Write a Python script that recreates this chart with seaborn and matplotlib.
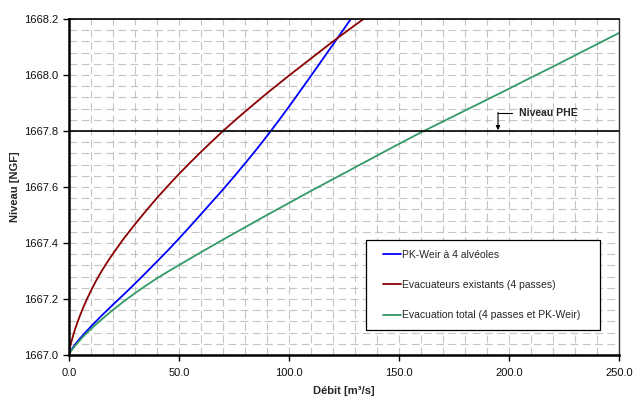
import matplotlib
matplotlib.use("Agg")
import matplotlib.pyplot as plt
from matplotlib.ticker import MultipleLocator, FormatStrFormatter
from matplotlib.legend_handler import HandlerLine2D
import seaborn as sns
import pandas as pd

# --- data ---
q_pk = [0, 0.5, 1, 2, 3, 5, 7.5, 10, 12.5, 15, 20, 25, 30, 35, 40, 45, 50, 55, 60, 65,
        70, 75, 80, 85, 90, 95, 100, 105, 110, 115, 120, 125, 129]
h_pk = [1667.0, 1667.010, 1667.017, 1667.029, 1667.040, 1667.059, 1667.081, 1667.102,
        1667.122, 1667.142, 1667.180, 1667.217, 1667.255, 1667.294, 1667.334,
        1667.374, 1667.416, 1667.459, 1667.503, 1667.547, 1667.591, 1667.637,
        1667.684, 1667.732, 1667.782, 1667.834, 1667.887, 1667.942, 1667.997,
        1668.053, 1668.109, 1668.165, 1668.210]

q_ex = [0, 0.25, 0.5, 1, 2, 3, 4, 5, 6, 8, 10, 12.5, 15, 17.5, 20, 25, 30, 35, 40, 45,
        50, 55, 60, 65, 70, 75, 80, 90, 100, 110, 120, 130, 136]
h_ex = [1667.0, 1667.018, 1667.029, 1667.045, 1667.073, 1667.098, 1667.120, 1667.141,
        1667.161, 1667.197, 1667.230, 1667.268, 1667.302, 1667.333, 1667.362,
        1667.417, 1667.467, 1667.515, 1667.561, 1667.6045, 1667.6465, 1667.6865,
        1667.7255, 1667.763, 1667.800, 1667.835, 1667.869, 1667.935, 1667.998,
        1668.059, 1668.120, 1668.178, 1668.212]

q_tot = [0, 0.5, 1, 2, 3, 4, 5, 6, 8, 10, 12.5, 15, 17.5, 20, 25, 30, 35, 40, 45, 50,
         60, 70, 80, 90, 100, 110, 120, 130, 140, 150, 160, 170, 180, 190, 200, 210,
         220, 230, 240, 250]
h_tot = [1667.0, 1667.009, 1667.015, 1667.025, 1667.035, 1667.044, 1667.053, 1667.062,
         1667.078, 1667.093, 1667.111, 1667.128, 1667.145, 1667.161, 1667.192,
         1667.221, 1667.248, 1667.274, 1667.298, 1667.321, 1667.367, 1667.412,
         1667.456, 1667.500, 1667.543, 1667.586, 1667.628, 1667.670, 1667.712,
         1667.754, 1667.795, 1667.834, 1667.873, 1667.912, 1667.951, 1667.991,
         1668.030, 1668.070, 1668.110, 1668.150]

labels = ["PK-Weir à 4 alvéoles", "Evacuateurs existants (4 passes)",
          "Evacuation total (4 passes et PK-Weir)"]
colors = ["#0000FF", "#8B0000", "#339966"]
niveau_phe = 1667.8

x_ticks = [0, 50, 100, 150, 200, 250]
y_ticks = [1667.0, 1667.2, 1667.4, 1667.6, 1667.8, 1668.0, 1668.2]

sns.set_theme(style="white")
plt.rcParams["font.family"] = ["Liberation Sans", "DejaVu Sans"]

fig = plt.figure(figsize=(6.44, 3.97), dpi=100)
ax = fig.add_axes([69 / 644, 1 - 355 / 397, 550 / 644, 336 / 397])

series = [(q_pk, h_pk), (q_ex, h_ex), (q_tot, h_tot)]
for (q, h), lab, c in zip(series, labels, colors):
    df = pd.DataFrame({"Q": q, "H": h})
    sns.lineplot(data=df, x="Q", y="H", ax=ax, color=c, lw=1.3, label=lab,
                 sort=False, estimator=None)

ax.axhline(niveau_phe, color="black", lw=1.2, zorder=3)

ax.set_xlim(0, 250)
ax.set_ylim(1667.0, 1668.2)
ax.set_xticks(x_ticks)
ax.set_yticks(y_ticks)
ax.xaxis.set_major_formatter(FormatStrFormatter("%.1f"))
ax.yaxis.set_major_formatter(FormatStrFormatter("%.1f"))
ax.xaxis.set_minor_locator(MultipleLocator(10))
ax.yaxis.set_minor_locator(MultipleLocator(0.04))
ax.grid(which="both", color="#c4c4c4", lw=0.8, linestyle=(0, (7, 4)))
ax.set_axisbelow(True)
ax.tick_params(which="major", direction="out", length=4, width=1, color="black",
               labelsize=8, labelcolor="#111111", bottom=True, left=True)
ax.tick_params(axis="x", which="major", pad=5)
ax.tick_params(which="minor", length=0)

for s in ["left", "bottom"]:
    ax.spines[s].set_color("black")
    ax.spines[s].set_linewidth(1.8)
ax.spines["top"].set_color("black")
ax.spines["top"].set_linewidth(1.2)
ax.spines["right"].set_color("#333333")
ax.spines["right"].set_linewidth(1.0)

ax.set_xlabel("Débit [m³/s]", fontsize=8, fontweight="bold", labelpad=6)
ax.set_ylabel("Niveau [NGF]", fontsize=8, fontweight="bold", labelpad=3)

# PHE annotation
ax.annotate("", xy=(195, 1667.803), xytext=(195, 1667.866),
            arrowprops=dict(arrowstyle="-|>", lw=0.8, color="black",
                            mutation_scale=6, shrinkA=0, shrinkB=0))
ax.plot([195, 201.5], [1667.866, 1667.866], color="black", lw=0.8)
ax.text(204.5, 1667.866, "Niveau PHE", fontsize=7.5, fontweight="bold",
        va="center", ha="left")


class ShortLineHandler(HandlerLine2D):
    def create_artists(self, legend, orig_handle, xdescent, ydescent, width,
                       height, fontsize, trans):
        arts = super().create_artists(legend, orig_handle, xdescent, ydescent,
                                      width, height, fontsize, trans)
        for a in arts:
            xd = list(a.get_xdata())
            yd = list(a.get_ydata())
            if len(xd) >= 2:
                x0, x1 = min(xd), max(xd)
                a.set_data([x0 + 0.28 * (x1 - x0), x1], [yd[0], yd[0]])
        return arts


handles, labs = ax.get_legend_handles_labels()
leg = ax.legend(handles, labs, loc="lower left",
                bbox_to_anchor=(0.54, 0.074, 0.425, 0.268),
                mode="expand", borderaxespad=0, fontsize=7.5, labelspacing=1.95,
                handlelength=2.45, handletextpad=0.1, borderpad=0.95,
                fancybox=False, framealpha=1, edgecolor="black",
                handler_map={h: ShortLineHandler() for h in handles})
leg.get_frame().set_linewidth(0.9)

fig.savefig("out.png", dpi=100)
